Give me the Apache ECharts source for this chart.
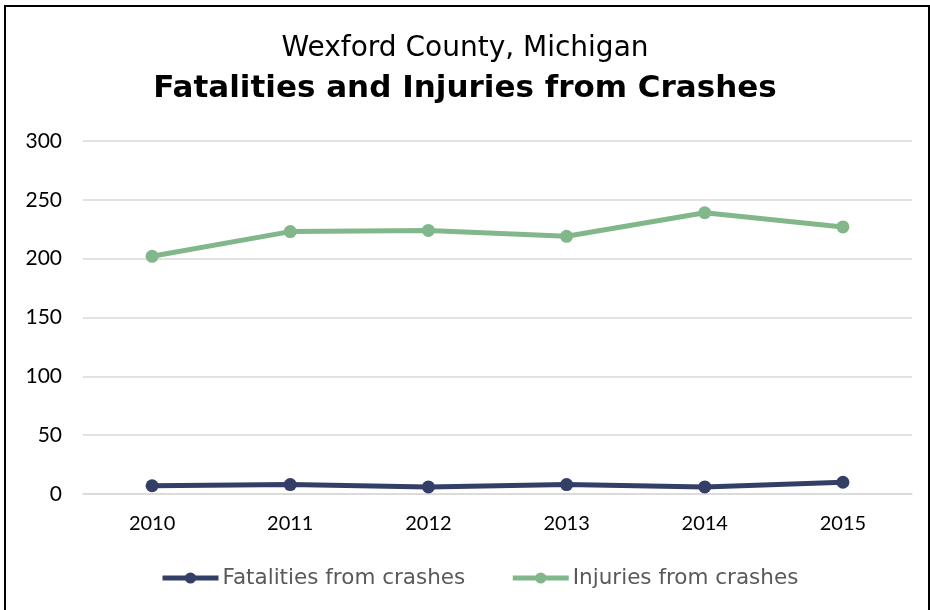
<!DOCTYPE html>
<html>
<head>
<meta charset="utf-8">
<script src="https://cdn.jsdelivr.net/npm/echarts@6/dist/echarts.min.js"></script>
<style>
  html, body { margin: 0; padding: 0; background: #fff; }
  .frame {
    position: absolute; left: 4px; top: 5px;
    width: 922px; height: 620px;
    border: 2px solid #000;
  }
  #chart { position: absolute; left: 0; top: 0; width: 930px; height: 610px; }
</style>
</head>
<body>
<div class="frame"></div>
<div id="chart"></div>
<script>
// data
const years = ['2010', '2011', '2012', '2013', '2014', '2015'];
const fatalities = [7, 8, 6, 8, 6, 10];
const injuries = [202, 223, 224, 219, 239, 227];

const titleFont = '"DejaVu Sans", sans-serif';
const axisFont = 'Lato';
const navy = '#333f66';
const green = '#82b78c';

let myChart = echarts.init(document.getElementById('chart'));
let option = {
  animation: false,
  title: [
    {
      text: 'Wexford County, Michigan',
      left: 'center',
      top: 30,
      textStyle: { fontFamily: titleFont, fontSize: 28, fontWeight: 'normal', color: '#000' }
    },
    {
      text: 'Fatalities and Injuries from Crashes',
      left: 'center',
      top: 68,
      textStyle: { fontFamily: titleFont, fontSize: 31, fontWeight: 'bold', color: '#000' }
    }
  ],
  legend: {
    bottom: 16,
    left: 155,
    itemWidth: 56,
    itemHeight: 14,
    itemGap: 45,
    lineStyle: { width: 5 },
    textStyle: { fontFamily: titleFont, fontSize: 21.5, color: '#595959', padding: [0, 0, 0, -1] },
    data: ['Fatalities from crashes', 'Injuries from crashes']
  },
  grid: { left: 83, right: 18, top: 141, bottom: 116, containLabel: false },
  xAxis: {
    type: 'category',
    data: years,
    axisLine: { lineStyle: { color: '#d9d9d9', width: 1.5 } },
    axisTick: { show: false },
    axisLabel: { fontFamily: axisFont, fontSize: 20, color: '#000', margin: 20 }
  },
  yAxis: {
    type: 'value',
    min: 0,
    max: 300,
    interval: 50,
    axisLine: { show: false },
    axisTick: { show: false },
    splitLine: { lineStyle: { color: '#d9d9d9', width: 1.5 } },
    axisLabel: { fontFamily: axisFont, fontSize: 21, color: '#000', margin: 21 }
  },
  series: [
    {
      name: 'Fatalities from crashes',
      type: 'line',
      data: fatalities,
      symbol: 'circle',
      symbolSize: 13,
      lineStyle: { color: navy, width: 5 },
      itemStyle: { color: navy }
    },
    {
      name: 'Injuries from crashes',
      type: 'line',
      data: injuries,
      symbol: 'circle',
      symbolSize: 13,
      lineStyle: { color: green, width: 5 },
      itemStyle: { color: green }
    }
  ]
};
myChart.setOption(option);
</script>
</body>
</html>
